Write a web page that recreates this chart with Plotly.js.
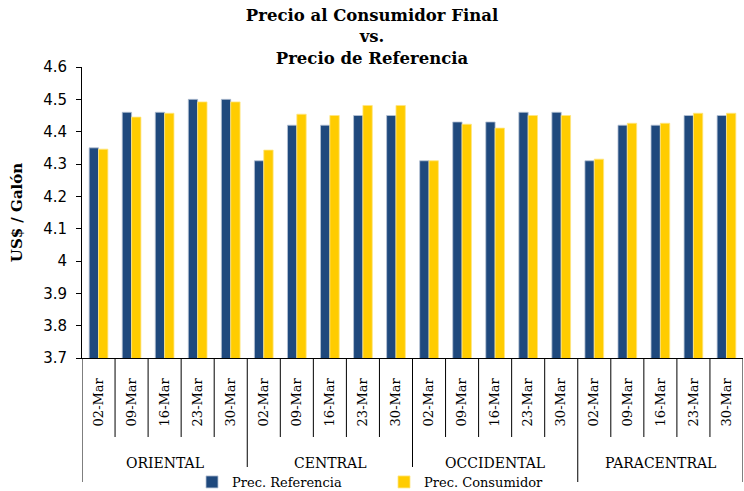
<!DOCTYPE html>
<html>
<head>
<meta charset="utf-8">
<script src="https://cdn.plot.ly/plotly-3.0.1.min.js"></script>
<style>body{margin:0;padding:0;background:#fff;}#chart{width:744px;height:491px;}</style>
</head>
<body>
<div id="chart"></div>
<script>
const regions = ["ORIENTAL", "CENTRAL", "OCCIDENTAL", "PARACENTRAL"];
const dates = ["02-Mar", "09-Mar", "16-Mar", "23-Mar", "30-Mar"];
const precReferencia = [
  4.35, 4.46, 4.46, 4.50, 4.50,
  4.31, 4.42, 4.42, 4.45, 4.45,
  4.31, 4.43, 4.43, 4.46, 4.46,
  4.31, 4.42, 4.42, 4.45, 4.45
];
const precConsumidor = [
  4.346, 4.445, 4.457, 4.492, 4.492,
  4.343, 4.454, 4.450, 4.481, 4.481,
  4.310, 4.423, 4.411, 4.450, 4.450,
  4.315, 4.426, 4.426, 4.457, 4.457
];
const seriesNames = ["Prec. Referencia", "Prec. Consumidor"];
const yTicks = [3.7, 3.8, 3.9, 4.0, 4.1, 4.2, 4.3, 4.4, 4.5, 4.6];

const keys = [];
const dateLabels = [];
regions.forEach(r => dates.forEach(d => { keys.push(r + " " + d); dateLabels.push(d); }));

const serif = "DejaVu Serif, Liberation Serif, serif";
const traces = [
  {type: "bar", name: seriesNames[0], x: keys, y: precReferencia,
   marker: {color: "#1F497D", line: {color: "#B8C4D6", width: 0.8}}},
  {type: "bar", name: seriesNames[1], x: keys, y: precConsumidor,
   marker: {color: "#FFCC00", line: {color: "#FFE680", width: 0.8}}}
];

const plotH = 491 - 67 - 133;
const shapes = [];
const n = keys.length;
for (let i = 0; i <= n; i++) {
  const isGroup = (i % dates.length === 0);
  shapes.push({type: "line", xref: "x", yref: "paper",
    x0: i - 0.5, x1: i - 0.5, y0: 0, y1: -(isGroup ? 124 : 79) / plotH,
    line: {color: "#000", width: 1}});
}
const annotations = regions.map((r, gi) => ({
  text: r, xref: "x", yref: "paper",
  x: gi * dates.length + (dates.length - 1) / 2, y: -105 / plotH,
  showarrow: false, xanchor: "center", yanchor: "middle",
  font: {family: serif, size: 14, color: "#000"}
}));

const layout = {
  width: 744, height: 491,
  margin: {l: 82, r: 1, t: 67, b: 133},
  paper_bgcolor: "#fff", plot_bgcolor: "#fff",
  title: {text: "Precio al Consumidor Final<br>vs.<br>Precio de Referencia",
    xref: "container", x: 0.5, xanchor: "center", yref: "container", y: 0.958, yanchor: "top",
    font: {family: serif, size: 16.5, color: "#000", weight: "bold"}},
  barmode: "group", bargap: 0.434, bargroupgap: 0,
  showlegend: true,
  legend: {orientation: "h", xref: "container", yref: "container", x: 192 / 744, y: 1 - 467 / 491,
    xanchor: "left", yanchor: "top", entrywidth: 147, font: {family: serif, size: 13, color: "#000"}},
  xaxis: {type: "category", range: [-0.5, n - 0.5], tickvals: keys, ticktext: dateLabels,
    tickangle: -90, ticks: "", showline: true, linecolor: "#000", linewidth: 1,
    showgrid: false, zeroline: false, ticklabelstandoff: 14,
    tickfont: {family: serif, size: 13, color: "#000"}},
  yaxis: {range: [3.7, 4.6], tickvals: yTicks, ticks: "outside", ticklen: 5, tickcolor: "#000",
    showline: true, linecolor: "#000", linewidth: 1, showgrid: false, zeroline: false,
    ticklabelstandoff: 6,
    tickfont: {family: "DejaVu Sans, sans-serif", size: 15, color: "#000"},
    title: {text: "US$ / Galón", standoff: 16, font: {family: serif, size: 15, color: "#000", weight: "bold"}}},
  shapes: shapes,
  annotations: annotations
};
Plotly.newPlot("chart", traces, layout, {displayModeBar: false, staticPlot: true});
</script>
</body>
</html>
